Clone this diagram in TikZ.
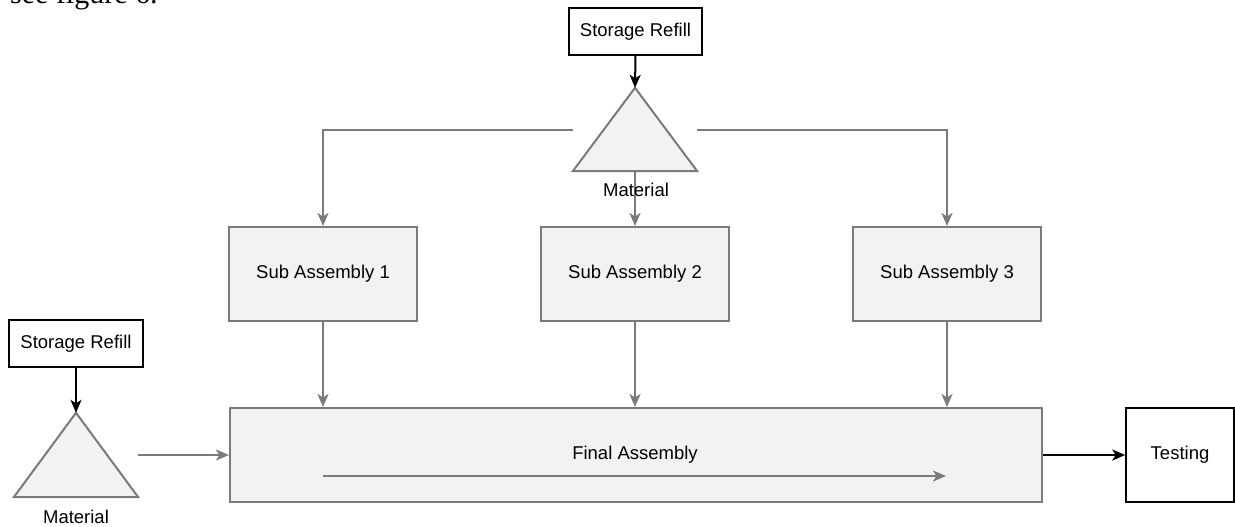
\documentclass[tikz,border=0pt]{standalone}
\usepackage{fontspec}
\setmainfont{Liberation Sans}
\newfontfamily\serifpart{Liberation Serif}
\usetikzlibrary{arrows.meta}
\definecolor{edgegray}{RGB}{122,122,122}
\definecolor{boxfill}{RGB}{242,242,242}
\begin{document}
\begin{tikzpicture}[x=1pt,y=-1pt,
  lbl/.style={font=\fontsize{18.5}{20}\selectfont},
  graybox/.style={draw=edgegray,line width=2pt,fill=boxfill,inner sep=0pt,lbl},
  blackbox/.style={draw=black,line width=1.5pt,fill=white,inner sep=0pt,lbl},
  trihold/.style={inner sep=0pt,minimum width=124pt},
  tri/.style={draw=edgegray,line width=2pt,fill=boxfill,line join=miter},
  gedge/.style={draw=edgegray,line width=2pt,-{Stealth[length=13pt,width=11pt,inset=3.5pt]}},
  bedge/.style={draw=black,line width=2pt,-{Stealth[length=13pt,width=11pt,inset=3.5pt]}}]
\useasboundingbox (0,0) rectangle (1235,527);
\fill[white] (0,0) rectangle (1235,527);

% clipped text at the top edge
\node[anchor=base west,inner sep=0pt,font=\serifpart\fontsize{30}{32}\selectfont] (cap) at (10,4) {see figure 6.};

% boxes
\node[blackbox,minimum width=133pt,minimum height=47pt] (sr1) at (635.5,31.5) {Storage Refill};
\node[blackbox,minimum width=134pt,minimum height=47pt] (sr2) at (76,343.5) {Storage Refill};
\node[graybox,minimum width=188pt,minimum height=94pt] (sa1) at (323,274) {Sub Assembly 1};
\node[graybox,minimum width=188pt,minimum height=94pt] (sa2) at (635,274) {Sub Assembly 2};
\node[graybox,minimum width=188pt,minimum height=94pt] (sa3) at (947,274) {Sub Assembly 3};
\node[graybox,minimum width=812pt,minimum height=94pt] (fa) at (636,455) {};
\node[lbl] (falbl) at (635,455) {Final Assembly};
\node[blackbox,minimum width=108pt,minimum height=94pt] (test) at (1180,455) {Testing};

% triangles
\node[trihold,minimum height=83pt] (mat1) at (635,129.5) {};
\draw[tri] (mat1.south west) -- (mat1.north) -- (mat1.south east) -- cycle;
\node[trihold,minimum height=84pt] (mat2) at (76,455) {};
\draw[tri] (mat2.south west) -- (mat2.north) -- (mat2.south east) -- cycle;

% connectors
\draw[bedge] (sr1.south) -- (mat1.north);
\draw[bedge] (sr2.south) -- (mat2.north);
\draw[gedge] (mat1.west) -| (sa1.north);
\draw[gedge] (mat1.south) -- (sa2.north);
\draw[gedge] (mat1.east) -| (sa3.north);
\draw[gedge] (sa1.south) -- (sa1.south |- fa.north);
\draw[gedge] (sa2.south) -- (sa2.south |- fa.north);
\draw[gedge] (sa3.south) -- (sa3.south |- fa.north);
\draw[gedge] (mat2.east) -- (fa.west);
\draw[bedge] (fa.east) -- (test.west);
\coordinate (fa1) at (323,476);
\coordinate (fa2) at (946,476);
\draw[gedge] (fa1) -- (fa2);

% material labels
\node[lbl] (m1lbl) at (636,190) {Material};
\node[lbl] (m2lbl) at (76,517) {Material};
\end{tikzpicture}
\end{document}
